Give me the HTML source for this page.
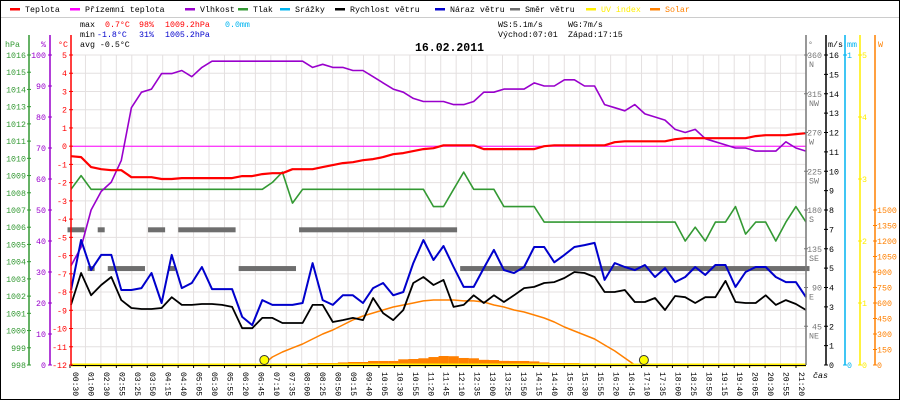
<!DOCTYPE html>
<html><head><meta charset="utf-8"><style>
html,body{margin:0;padding:0;background:#fff;}
svg{display:block;font-family:"Liberation Mono",monospace;}
</style></head><body>
<svg id="chart" width="900" height="400" viewBox="0 0 900 400" xmlns="http://www.w3.org/2000/svg">
<rect x="0.5" y="0.5" width="899" height="399" fill="#fff" stroke="#000"/>
<g id="grid"></g>
<g id="series"></g>
<g id="axes"></g>
<g id="legend" font-size="8.3"></g>
<g font-size="8.3">
<text x="80" y="27" fill="#000">max</text><text x="105" y="27" fill="#f00">0.7°C</text><text x="139" y="27" fill="#f00">98%</text><text x="165" y="27" fill="#f00">1009.2hPa</text><text x="225" y="27" fill="#00b4f0">0.0mm</text>
<text x="80" y="37" fill="#000">min</text><text x="97" y="37" fill="#00c">-1.8°C</text><text x="139" y="37" fill="#00c">31%</text><text x="165" y="37" fill="#00c">1005.2hPa</text>
<text x="80" y="47" fill="#000">avg -0.5°C</text>
<text x="498" y="27" fill="#000">WS:5.1m/s</text><text x="568" y="27" fill="#000">WG:7m/s</text>
<text x="498" y="37" fill="#000">Východ:07:01</text><text x="568" y="37" fill="#000">Západ:17:15</text>
</g>
<text x="415" y="51" font-size="11.5" font-weight="bold" fill="#000">16.02.2011</text>
</svg>
<script>
const timeLabels=["00:30","01:00","02:30","02:55","03:25","03:50","04:15","04:40","05:05","05:30","05:55","06:20","06:45","07:10","07:35","08:00","08:25","08:50","09:15","09:40","10:05","10:30","10:55","11:20","11:45","12:10","12:35","13:00","13:25","13:50","14:15","14:40","15:05","15:30","15:55","16:20","16:45","17:10","17:35","18:00","18:25","18:50","19:15","19:40","20:05","20:30","20:55","21:20"];
const temperature=[-0.55,-0.6,-1.15,-1.26,-1.32,-1.32,-1.7,-1.7,-1.7,-1.8,-1.8,-1.75,-1.75,-1.75,-1.75,-1.75,-1.75,-1.64,-1.64,-1.53,-1.48,-1.48,-1.26,-1.26,-1.26,-1.15,-1.04,-0.93,-0.88,-0.77,-0.71,-0.6,-0.44,-0.38,-0.27,-0.16,-0.11,0.05,0.05,0.05,0.05,-0.16,-0.16,-0.16,-0.16,-0.16,-0.16,0,0.05,0.05,0.05,0.05,0.05,0.05,0.22,0.27,0.27,0.27,0.27,0.27,0.38,0.44,0.44,0.44,0.44,0.44,0.44,0.44,0.55,0.6,0.6,0.6,0.66,0.71];
const windChill=[0,0,0,0,0,0,0,0,0,0,0,0,0,0,0,0,0,0,0,0,0,0,0,0,0,0,0,0,0,0,0,0,0,0,0,0,0,0,0,0,0,0,0,0,0,0,0,0,0,0,0,0,0,0,0,0,0,0,0,0,0,0,0,0,0,0,0,0,0,0,0,0,0,0];
const humidity=[32,38,50,56,59,66,83,88,89,94,94,95,93,96,98,98,98,98,98,98,98,98,98,98,96,97,96,96,95,95,93,91,89,88,86,85,85,85,84,84,85,88,88,89,89,89,91,90,90,92,92,90,90,84,83,82,84,81,80,79,76,75,76,73,72,71,70,70,69,69,69,72,70,69];
const pressure=[1008.2,1009.0,1008.2,1008.2,1008.2,1008.2,1008.2,1008.2,1008.2,1008.2,1008.2,1008.2,1008.2,1008.2,1008.2,1008.2,1008.2,1008.2,1008.2,1008.2,1008.6,1009.2,1007.4,1008.2,1008.2,1008.2,1008.2,1008.2,1008.2,1008.2,1008.2,1008.2,1008.2,1008.2,1008.2,1008.2,1007.2,1007.2,1008.2,1009.2,1008.2,1008.2,1008.2,1007.2,1007.2,1007.2,1007.2,1006.3,1006.3,1006.3,1006.3,1006.3,1006.3,1006.3,1006.3,1006.3,1006.3,1006.3,1006.3,1006.3,1006.3,1005.2,1006.0,1005.2,1006.3,1006.3,1007.2,1005.6,1006.3,1006.3,1005.2,1006.3,1007.2,1006.3];
const windSpeed=[3.1,4.75,3.6,4.13,4.54,3.35,2.94,2.89,2.89,2.94,3.5,3.1,3.1,3.15,3.15,3.1,3.0,1.9,1.9,2.43,2.43,2.17,2.17,2.17,3.1,3.1,2.22,2.32,2.43,2.32,3.46,2.68,2.32,2.84,4.23,4.54,4.13,4.39,3.0,3.1,3.6,3.2,3.6,3.25,3.6,3.97,4.03,4.23,4.28,4.49,4.8,4.75,4.54,3.77,3.77,3.87,3.25,3.25,3.46,2.84,3.56,3.5,3.2,3.5,3.5,4.34,3.25,3.2,3.2,3.6,3.1,3.35,3.15,2.84];
const windGust=[3.87,6.45,4.9,5.68,5.68,3.87,3.87,3.97,4.75,3.2,5.68,3.97,4.23,5.06,3.92,3.92,3.92,2.48,2.06,3.35,3.1,3.1,3.1,3.2,5.26,3.35,3.1,3.6,3.6,3.2,3.97,4.23,3.6,3.77,5.26,6.45,5.42,6.14,5.06,4.03,4.03,5.0,5.94,4.9,4.75,5.06,6.09,6.09,5.3,5.68,6.09,6.19,6.3,4.39,5.26,5.06,4.9,5.16,4.54,5.0,4.28,4.54,5.06,4.65,5.16,5.16,4.03,4.8,5.06,5.06,4.54,4.28,4.28,3.5];
const windDir=[157,157,112,157,112,112,112,112,157,157,112,157,157,157,157,157,157,112,112,112,112,112,112,157,157,157,157,157,157,157,157,157,157,157,157,157,157,157,157,112,112,112,112,112,112,112,112,112,112,112,112,112,112,112,112,112,112,112,112,112,112,112,112,112,112,112,112,112,112,112,112,112,112,112];
const solar=[0,0,0,0,0,0,0,0,0,0,0,0,0,0,0,0,0,0,5,8,5,10,10,10,19,19,19,25,29,29,39,39,39,55,58,65,77,87,85,68,65,50,48,40,39,39,35,25,19,19,19,15,15,12,8,0,0,0,0,0,0,0,0,0,0,0,0,0,0,0,0,0,0,0];
const solarTheory=[null,null,null,null,null,null,null,null,null,null,null,null,null,null,null,null,null,null,null,0,77,126,165,203,252,300,339,387,436,474,503,532,561,581,600,620,629,629,629,620,620,610,581,561,532,513,484,455,416,368,329,290,252,194,136,68,0,null,null,null,null,null,null,null,null,null,null,null,null,null,null,null,null,null];
const uvIndex=[0,0];
const sunIdx=[19.2,56.9];

const NS="http://www.w3.org/2000/svg";
const L=71,R=806,T=55,B=365,H=B-T,N=temperature.length;
const X=i=>L+i*(R-L)/(N-1);
const yTemp=t=>B-(t+12)/17*H, yHum=h=>B-h/100*H, yP=p=>B-(p-998)/18*H,
 yDir=d=>B-d/360*H, yWind=v=>B-v/16*H, ySol=w=>B-w/3000*H, yUV=u=>B-u/5*H, yMM=m=>B-m*H;
function el(tag,attrs,parent,txt){const e=document.createElementNS(NS,tag);for(const k in attrs)e.setAttribute(k,attrs[k]);if(txt!==undefined)e.textContent=txt;parent.appendChild(e);return e;}
const grid=document.getElementById('grid'),ser=document.getElementById('series'),axes=document.getElementById('axes'),leg=document.getElementById('legend');

for(let k=0;k<=17;k++){const y=yTemp(k-12);const g=el('line',{x1:L,x2:R,y1:y,y2:y,stroke:'#e4e0e0','stroke-width':1},grid);

}
const dx=(796-70)/(timeLabels.length-1);
timeLabels.forEach((t,k)=>{const x=70+k*dx;
 if(k>0){const g=el('line',{x1:x,x2:x,y1:T,y2:B,stroke:'#e4e0e0','stroke-width':1},grid);
 
 }
 el('line',{x1:x,x2:x,y1:B,y2:B+3,stroke:'#000'},axes);
 const tx=el('text',{x:0,y:0,'font-size':8,fill:'#000',transform:`translate(${x+3},${372}) rotate(90)`},axes,t);
 
 });

solar.forEach((v,i)=>{if(v>0){const r=el('rect',{x:X(i)-5,y:ySol(v),width:10.2,height:B-ySol(v),fill:'#ff8000'},ser);

}});
function line(arr,yf,color,w,name){const pts=[];arr.forEach((v,i)=>{if(v!==null)pts.push(X(i).toFixed(1)+','+yf(v).toFixed(1));});
 const p=el('polyline',{points:pts.join(' '),fill:'none',stroke:color,'stroke-width':w,'stroke-linejoin':'round'},ser);
 
 }
line(solarTheory,ySol,'#ff8000',1.5,'solar-theory-line');
let s=0;for(let i=1;i<=N;i++){if(i===N||windDir[i]!==windDir[s]){const y=yDir(windDir[s]);
 const r=el('rect',{x:X(s)-3.5,y:y-2.5,width:X(i-1)-X(s)+7,height:5,fill:'#6e6e6e'},ser);
 
 s=i;}}
line(pressure,yP,'#339933',1.6,'pressure-line');
line(windChill,yTemp,'#ff00ff',1,'windchill-line');
line(humidity,yHum,'#9900cc',1.6,'humidity-line');
line(windGust,yWind,'#0000cc',2,'wind-gust-line');
line(windSpeed,yWind,'#000',1.8,'wind-speed-line');
line(temperature,yTemp,'#ff0000',2.2,'temperature-line');
const uv=el('line',{x1:L,x2:R,y1:yUV(uvIndex[0]),y2:yUV(uvIndex[1]),stroke:'#ffee00','stroke-width':3},ser);


el('line',{x1:L,x2:R,y1:B+0.5,y2:B+0.5,stroke:'#000','stroke-width':1},axes);
sunIdx.forEach(si=>{const c=el('circle',{cx:X(si),cy:B-5,r:4.5,fill:'#ffff00',stroke:'#333','stroke-width':1},ser);

});

function vaxis(x,color,name){const a=el('line',{x1:x,x2:x,y1:T-20,y2:B,stroke:color,'stroke-width':1.5},axes);

}
vaxis(29,'#339933','pressure-axis');vaxis(50,'#9900cc','humidity-axis');vaxis(71,'#ff0000','temperature-axis');
vaxis(806,'#777','direction-axis');vaxis(826,'#000','wind-axis');vaxis(845,'#00b4f0','rain-axis');vaxis(860,'#ffee00','uv-axis');vaxis(875,'#ff8000','solar-axis');
function tick(x,y,color,label,lx,anchor,name){el('line',{x1:x-2,x2:x+2,y1:y,y2:y,stroke:color},axes);
 const t=el('text',{x:lx,y:y+3,fill:color,'font-size':8.3,'text-anchor':anchor},axes,label);
 
 }
for(let p=998;p<=1016;p++)tick(29,yP(p),'#339933',String(p),26,'end','pressure-tick');
for(let h=0;h<=100;h+=10)tick(50,yHum(h),'#9900cc',String(h),46,'end','humidity-tick');
for(let t=-12;t<=5;t++)tick(71,yTemp(t),'#ff0000',String(t),67,'end','temperature-tick');
const comp=['','NE','E','SE','S','SW','W','NW','N'];
for(let k=1;k<=8;k++){const y=yDir(k*45);tick(806,y,'#777',String(k*45),822,'end','direction-tick');
 const c=el('text',{x:809,y:y+12,fill:'#777','font-size':8.3},axes,comp[k]);
 
 }
for(let v=0;v<=16;v++)tick(826,yWind(v),'#000',String(v),829,'start','wind-tick');
for(let m=0;m<=1;m++)tick(845,yMM(m),'#00b4f0',String(m),847,'start','rain-tick');
for(let u=0;u<=5;u++)tick(860,yUV(u),'#ffee00',String(u),862,'start','uv-tick');
for(let w=0;w<=1500;w+=150)tick(875,ySol(w),'#ff8000',String(w),877,'start','solar-tick');
[['hPa',5,'#339933'],['%',41,'#9900cc'],['°C',58,'#ff0000'],['°',808,'#777'],['m/s',828,'#000'],['mm',847,'#00b4f0'],['W',878,'#ff8000']].forEach(a=>{
 const t=el('text',{x:a[1],y:47,fill:a[2],'font-size':8.3},axes,a[0]);
 
 });
const ct=el('text',{x:813,y:378,fill:'#000','font-size':8.3,'font-style':'italic'},axes,'čas');



el('line',{x1:1,x2:899,y1:17.5,y2:17.5,stroke:'#ccc'},leg);
[['Teplota',10,'#ff0000','#000'],['Přízemní teplota',70,'#ff00ff','#000'],['Vlhkost',185,'#9900cc','#000'],['Tlak',238,'#339933','#000'],['Srážky',280,'#00b4f0','#000'],['Rychlost větru',335,'#000','#000'],['Náraz větru',435,'#0000cc','#000'],['Směr větru',510,'#6e6e6e','#000'],['UV index',586,'#ffee00','#ffee00'],['Solar',650,'#ff8000','#ff8000']].forEach(a=>{
 const g=el('g',{},leg);
 
 
 el('rect',{x:a[1],y:8,width:10,height:2.5,fill:a[2]},g);
 el('text',{x:a[1]+15,y:12,fill:a[3]},g,a[0]);});
</script>
</body></html>
